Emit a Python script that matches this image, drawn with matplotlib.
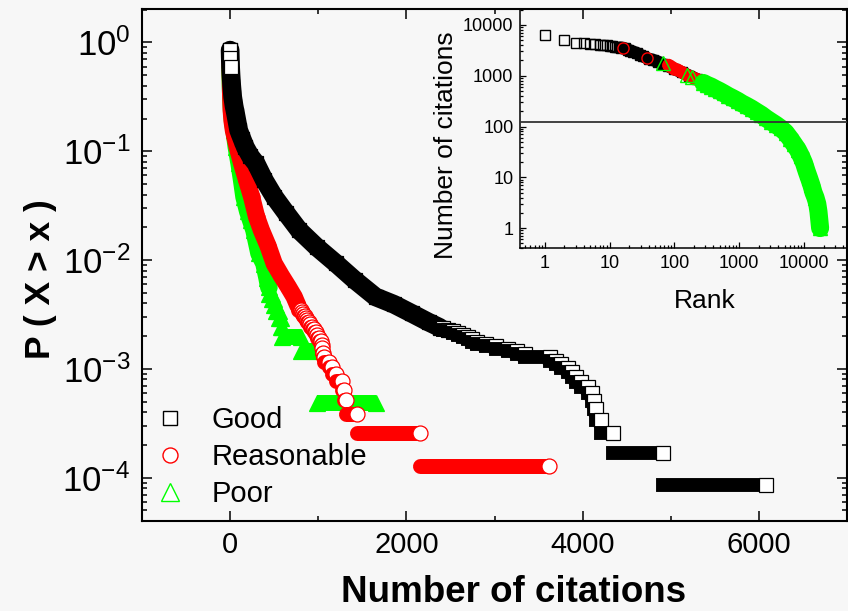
import numpy as np
import matplotlib
matplotlib.use("Agg")
import matplotlib.pyplot as plt
from matplotlib.lines import Line2D
from matplotlib.ticker import FixedLocator, LogLocator, NullFormatter, LogFormatterMathtext, FixedFormatter

plt.rcParams['font.family'] = ['Liberation Sans', 'DejaVu Sans']
plt.rcParams['mathtext.fontset'] = 'custom'
plt.rcParams['mathtext.rm'] = 'Liberation Sans'
plt.rcParams['mathtext.it'] = 'Liberation Sans:italic'
plt.rcParams['mathtext.bf'] = 'Liberation Sans:bold'

# ---------------- data ----------------
categories = ['Good', 'Reasonable', 'Poor']

# main panel: CCDF P(X > x); smooth part ("bulk") and step part (run end x, level)
good_x = [0, 2, 5, 10, 18, 29, 45, 65, 97, 135, 173, 230, 294, 388, 501, 636, 783,
          986, 1198, 1416, 1650, 1857, 2063, 2252, 2380]
good_p = [0.85, 0.72, 0.60, 0.50, 0.40, 0.316, 0.26, 0.215, 0.156, 0.13, 0.109, 0.09,
          0.0773, 0.0542, 0.0381, 0.0270, 0.0188, 0.0131, 0.00937, 0.00654, 0.00459,
          0.00393, 0.00323, 0.00269, 0.0024]
good_step_x = [2420, 2470, 2530, 2590, 2644, 2700, 2750, 2798, 2900, 3020, 3156, 3250,
               3345, 3631, 3700, 3760, 3834, 3880, 3930, 3985, 4060, 4109, 4130, 4154,
               4210, 4343, 4909, 6085]
good_step_p = [2.38e-3, 2.295e-3, 2.21e-3, 2.125e-3, 2.04e-3, 1.955e-3, 1.87e-3, 1.785e-3,
               1.70e-3, 1.615e-3, 1.53e-3, 1.445e-3, 1.36e-3, 1.275e-3, 1.19e-3, 1.105e-3,
               1.02e-3, 9.35e-4, 8.5e-4, 7.65e-4, 6.8e-4, 5.95e-4, 5.1e-4, 4.25e-4,
               3.4e-4, 2.55e-4, 1.7e-4, 8.5e-5]

reas_x = [0, 1, 3, 6, 12, 22, 37, 80, 131, 185, 244, 300, 355, 430, 500, 580, 660, 727, 770]
reas_p = [0.80, 0.62, 0.45, 0.33, 0.24, 0.19, 0.156, 0.11, 0.0773, 0.055, 0.0381, 0.025,
          0.0188, 0.0135, 0.0093, 0.0072, 0.00567, 0.00459, 0.0038]
reas_step_x = [800, 815, 830, 845, 860, 875, 890, 905, 925, 953, 970, 990, 1010, 1028,
               1038, 1047, 1056, 1066, 1122, 1160, 1200, 1272, 1292, 1311, 1442, 2150, 3620]
reas_step_p = [3.46e-3, 3.33e-3, 3.21e-3, 3.08e-3, 2.95e-3, 2.82e-3, 2.69e-3, 2.56e-3,
               2.44e-3, 2.31e-3, 2.18e-3, 2.05e-3, 1.92e-3, 1.79e-3, 1.67e-3, 1.54e-3,
               1.41e-3, 1.28e-3, 1.15e-3, 1.03e-3, 8.97e-4, 7.69e-4, 6.41e-4, 5.13e-4,
               3.85e-4, 2.56e-4, 1.28e-4]

poor_x = [0, 2, 5, 10, 18, 30, 45, 70, 102, 130, 158, 200, 233, 271, 328, 384, 420, 440]
poor_p = [0.59, 0.47, 0.38, 0.30, 0.23, 0.185, 0.156, 0.11, 0.0773, 0.055, 0.0381, 0.028,
          0.0233, 0.0188, 0.0115, 0.0093, 0.0068, 0.0056]
poor_step_x = [470, 495, 520, 550, 576, 590, 807, 987, 1657]
poor_step_p = [4.88e-3, 4.39e-3, 3.90e-3, 3.42e-3, 2.93e-3, 2.44e-3, 1.95e-3, 1.46e-3, 4.88e-4]

# inset: rank vs number of citations
in_good_rank = [1, 2, 3, 4, 5, 6, 7, 8, 9, 10, 11, 12, 13, 14, 15, 17, 19, 21, 23, 26, 29,
                33, 40, 46, 55, 65, 80, 100, 130, 170, 220, 300, 400, 550, 750, 1000, 1400,
                2000, 2800, 3800, 5000, 6500, 8000, 9500, 11000, 12500, 14000, 15500,
                17000, 18100]
in_good_cit = [6360, 5070, 4490, 4350, 4250, 4150, 4080, 4040, 3950, 3880, 3800, 3750, 3680,
               3600, 3550, 3450, 3250, 3100, 2950, 2800, 2600, 2400, 2150, 2050, 1900, 1700,
               1550, 1350, 1170, 1000, 860, 700, 580, 470, 385, 315, 250, 185, 140, 108,
               82, 56, 38, 25, 15, 9, 5.8, 3.6, 2.2, 1.0]
in_reas_rank = [16, 38, 81, 90, 100, 115, 130, 155, 185, 220, 270, 330, 400, 500, 650, 850,
                1100, 1500, 2000, 2800, 3800, 5000, 6500, 8000, 9500, 11000, 12500, 14000,
                15500, 16800, 18100]
in_reas_cit = [3573, 2210, 1630, 1500, 1380, 1280, 1170, 1040, 930, 850, 740, 650, 580, 500,
               420, 350, 290, 230, 180, 135, 105, 78, 52, 36, 24, 14, 8.5, 5.3, 3.4, 2.3, 1.0]
in_poor_rank = [67, 155, 186, 280, 320, 370, 430, 500, 580, 680, 800, 950, 1100, 1300, 1550,
                1850, 2200, 2600, 3100, 3700, 4400, 5200, 6100, 7000, 8000, 9000, 10000,
                11000, 12000, 13000, 14000, 15000, 16000, 16700, 17700]
in_poor_cit = [1760, 1040, 960, 720, 660, 610, 550, 500, 450, 400, 360, 320, 285, 255, 225,
               195, 170, 145, 125, 108, 92, 76, 58, 45, 35, 26, 19, 13, 9.5, 7, 5, 4, 3,
               2.1, 1.0]
in_threshold = 120

main_xticks = [0, 2000, 4000, 6000]
main_xminor = [1000, 3000, 5000]
inset_ticks = [1, 10, 100, 1000, 10000]
inset_ticklabels = ['1', '10', '100', '1000', '10000']

# ---------------- style ----------------
BLACK, RED, GREEN = '#000000', '#ff0000', '#00ff00'
BG = '#f7f7f7'
W, H = 848, 611

fig = plt.figure(figsize=(W / 100, H / 100), dpi=100, facecolor=BG)
ax = fig.add_axes([142 / W, 1 - 521 / H, (847 - 142) / W, (521 - 9) / H])
ax.set_facecolor(BG)


def draw_ccdf(ax, bx, bp, sx, sp, color, marker, ms, band, white_end, z, n_open=0):
    cap = {'s': 'projecting', 'o': 'round', '^': 'butt'}[marker]
    ax.plot(bx, bp, '-', color=color, lw=ms * band, solid_capstyle='round',
            solid_joinstyle='round', zorder=z)
    ax.plot(bx, bp, ls='none', marker=marker, ms=ms, mfc=color, mec=color, mew=0.9, zorder=z)
    if n_open:
        ax.plot(bx[:n_open], bp[:n_open], ls='none', marker=marker, ms=ms, mfc='white',
                mec=color, mew=0.9, zorder=z)
    start = bx[-1]
    for xe, p in zip(sx, sp):
        ax.plot([start, xe], [p, p], '-', color=color, lw=ms, solid_capstyle=cap, zorder=z)
        if marker == '^':
            ax.plot([start, xe], [p, p], ls='none', marker='^', ms=ms, mfc=color, mec=color,
                    mew=0.9, zorder=z)
        if white_end:
            ax.plot([xe], [p], ls='none', marker=marker, ms=ms, mfc='white', mec=color,
                    mew=0.9, zorder=z)
        start = xe


draw_ccdf(ax, poor_x, poor_p, poor_step_x, poor_step_p, GREEN, '^', 11.5, 1.1, False, 2)
draw_ccdf(ax, reas_x, reas_p, reas_step_x, reas_step_p, RED, 'o', 10.8, 1.15, True, 3)
draw_ccdf(ax, good_x, good_p, good_step_x, good_step_p, BLACK, 's', 10.0, 1.35, True, 4, n_open=3)

ax.set_xscale('linear')
ax.set_yscale('log')
ax.set_xlim(-1000, 7000)
ax.set_ylim(4.0e-5, 2.03)
ax.xaxis.set_major_locator(FixedLocator(main_xticks))
ax.xaxis.set_minor_locator(FixedLocator(main_xminor))
ax.yaxis.set_major_locator(LogLocator(base=10, numticks=20))
ax.yaxis.set_minor_locator(LogLocator(base=10, subs=np.arange(2, 10), numticks=20))
ax.yaxis.set_major_formatter(LogFormatterMathtext())
ax.yaxis.set_minor_formatter(NullFormatter())
ax.tick_params(which='both', direction='in', top=True, right=True, width=1.1, color='black')
ax.tick_params(which='major', length=7.2)
ax.tick_params(which='minor', length=3.8)
ax.tick_params(axis='x', which='major', labelsize=21, pad=7.5)
ax.tick_params(axis='y', which='major', labelsize=25, pad=8.5)
for s in ax.spines.values():
    s.set_linewidth(1.5)

ax.set_xlabel('Number of citations', fontsize=26.5, fontweight='bold', va='baseline')
ax.xaxis.set_label_coords(513.8 / W, 1 - 601.7 / H, transform=fig.transFigure)
ax.set_ylabel('P ( X > x )', fontsize=25.5, fontweight='bold', va='baseline',
              rotation=90, rotation_mode='anchor', ha='center')
ax.yaxis.set_label_coords(50 / W, 1 - 279 / H, transform=fig.transFigure)

handles = [
    Line2D([0], [0], ls='none', marker='s', ms=10, mfc='white', mec=BLACK, mew=1.0),
    Line2D([0], [0], ls='none', marker='o', ms=10.8, mfc='white', mec=RED, mew=1.0),
    Line2D([0], [0], ls='none', marker='^', ms=13.5, mfc='white', mec=GREEN, mew=1.0),
]
leg = ax.legend(handles, categories, loc='upper left', bbox_to_anchor=(155 / W, 1 - 406 / H),
                bbox_transform=fig.transFigure, frameon=False, fontsize=21, handlelength=1.0,
                handletextpad=0.95, labelspacing=0.31, borderpad=0, borderaxespad=0,
                numpoints=1)
leg.set_zorder(10)

# ---------------- inset ----------------
axi = fig.add_axes([519.7 / W, 1 - 248.3 / H, (847 - 519.7) / W, (248.3 - 9) / H])
axi.set_facecolor('none')
axi.set_xscale('log')
axi.set_yscale('log')
axi.set_xlim(0.41, 46000)
axi.set_ylim(0.40, 20600)


def draw_rank(ax, r, c, color, marker, ms, dense_from, lw, z):
    r = np.asarray(r, float)
    c = np.asarray(c, float)
    m = r >= dense_from
    ax.plot(r[m], c[m], '-', color=color, lw=lw, solid_capstyle='round',
            solid_joinstyle='round', zorder=z)
    ax.plot(r, c, ls='none', marker=marker, ms=ms, mfc='none', mec=color, mew=1.0, zorder=z)


draw_rank(axi, in_good_rank, in_good_cit, BLACK, 's', 7.5, 15, 9, 2)
draw_rank(axi, in_reas_rank, in_reas_cit, RED, 'o', 8, 80, 9, 3)
draw_rank(axi, in_poor_rank, in_poor_cit, GREEN, '^', 9.5, 250, 13, 4)
axi.axhline(in_threshold, color='#333333', lw=1.3, zorder=5)

axi.xaxis.set_major_locator(FixedLocator(inset_ticks))
axi.xaxis.set_major_formatter(FixedFormatter(inset_ticklabels))
axi.yaxis.set_major_locator(FixedLocator(inset_ticks))
axi.yaxis.set_major_formatter(FixedFormatter(inset_ticklabels))
axi.xaxis.set_minor_locator(LogLocator(base=10, subs=np.arange(2, 10), numticks=20))
axi.yaxis.set_minor_locator(LogLocator(base=10, subs=np.arange(2, 10), numticks=20))
axi.xaxis.set_minor_formatter(NullFormatter())
axi.yaxis.set_minor_formatter(NullFormatter())
axi.tick_params(which='both', direction='in', top=False, right=False, width=0.9)
axi.tick_params(which='major', length=4, labelsize=13)
axi.tick_params(which='minor', length=2.2)
axi.tick_params(axis='x', which='major', pad=5)
axi.tick_params(axis='y', which='major', pad=4.5)
axi.spines['top'].set_visible(False)
axi.spines['right'].set_visible(False)
axi.spines['left'].set_linewidth(1.1)
axi.spines['bottom'].set_linewidth(1.1)

axi.set_xlabel('Rank', fontsize=19, va='baseline')
axi.xaxis.set_label_coords(705 / W, 1 - 308.3 / H, transform=fig.transFigure)
axi.set_ylabel('Number of citations', fontsize=19, va='baseline', rotation=90,
               rotation_mode='anchor', ha='center')
axi.yaxis.set_label_coords(452.7 / W, 1 - 145.5 / H, transform=fig.transFigure)

fig.savefig('out.png', dpi=100, facecolor=BG)
